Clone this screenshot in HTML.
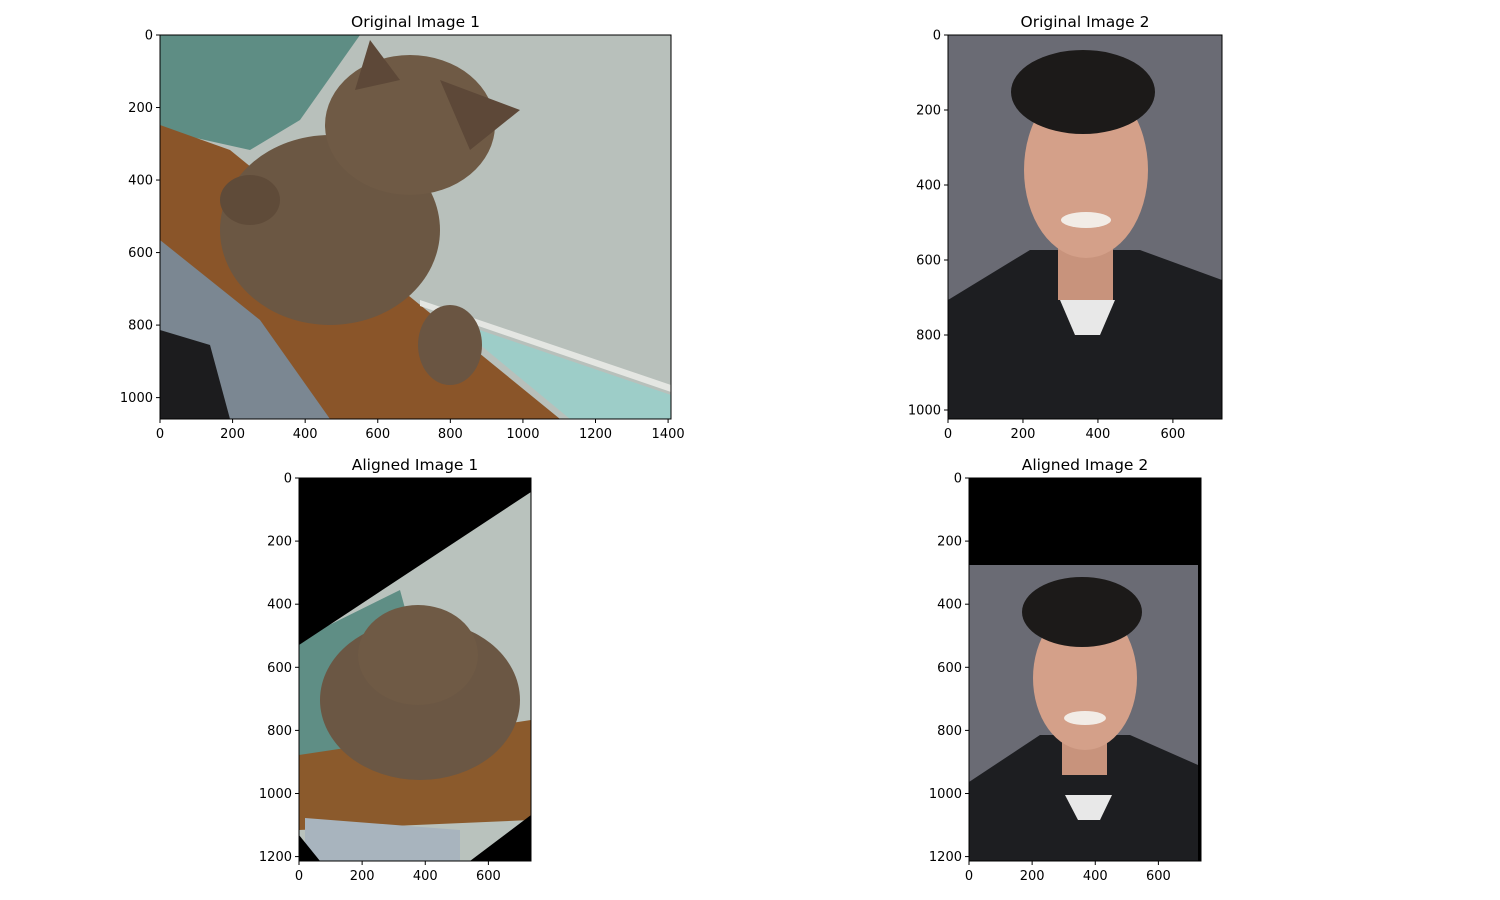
<!DOCTYPE html>
<html><head><meta charset="utf-8"><style>
html,body{margin:0;padding:0;background:#fff;}
svg{display:block;font-family:"DejaVu Sans","Liberation Sans",sans-serif;}
</style></head><body>
<svg id="fig" width="1500" height="900" viewBox="0 0 1500 900">
<defs>
<clipPath id="c1"><rect x="160" y="35" width="511" height="384"/></clipPath>
<clipPath id="c2"><rect x="948" y="35" width="274" height="384"/></clipPath>
<clipPath id="c3"><rect x="299" y="478" width="232" height="383"/></clipPath>
<clipPath id="c4"><rect x="969" y="478" width="232" height="383"/></clipPath>
</defs>
<g clip-path="url(#c1)">
<rect x="160" y="35" width="511" height="384" fill="#b8c0bb"/>
<polygon points="160,35 360,35 300,120 250,150 160,130" fill="#5e8d84"/>
<polygon points="160,125 230,150 560,419 160,419" fill="#8a5529"/>
<polygon points="450,320 671,395 671,419 570,419" fill="#9dcdc8"/>
<polygon points="420,300 671,385 671,392 420,306" fill="#e4e6e2"/>
<polygon points="160,240 260,320 330,419 160,419" fill="#7b8792"/>
<polygon points="160,330 210,345 230,419 160,419" fill="#1c1c1e"/>
<ellipse cx="330" cy="230" rx="110" ry="95" fill="#6b5743"/>
<ellipse cx="410" cy="125" rx="85" ry="70" fill="#6f5a45"/>
<polygon points="355,90 370,40 400,80" fill="#5d4838"/>
<polygon points="440,80 520,110 470,150" fill="#5d4838"/>
<ellipse cx="250" cy="200" rx="30" ry="25" fill="#5f4b39"/>
<ellipse cx="450" cy="345" rx="32" ry="40" fill="#6a5542"/>
</g>
<g clip-path="url(#c2)">
<rect x="948" y="35" width="274" height="384" fill="#6a6b74"/>
<polygon points="948,300 1030,250 1140,250 1222,280 1222,419 948,419" fill="#1d1e21"/>
<rect x="1058" y="230" width="55" height="70" fill="#c8937c"/>
<polygon points="1060,300 1115,300 1100,335 1075,335" fill="#e8e8e8"/>
<ellipse cx="1086" cy="170" rx="62" ry="88" fill="#d4a089"/>
<ellipse cx="1083" cy="92" rx="72" ry="42" fill="#1c1a19"/>
<ellipse cx="1086" cy="220" rx="25" ry="8" fill="#f2ece6"/>
</g>
<g clip-path="url(#c3)">
<rect x="299" y="478" width="232" height="383" fill="#b9c2bd"/>
<polygon points="299,640 400,590 430,700 360,750 299,760" fill="#5f8e85"/>
<polygon points="299,755 531,720 531,820 299,830" fill="#8b5a2c"/>
<ellipse cx="420" cy="700" rx="100" ry="80" fill="#6b5744"/>
<ellipse cx="418" cy="655" rx="60" ry="50" fill="#6f5a45"/>
<polygon points="305,818 460,830 460,861 305,861" fill="#a8b4be"/>
<polygon points="299,478 531,478 531,492 299,645" fill="#000"/>
<polygon points="531,815 531,861 470,861" fill="#000"/>
<polygon points="299,835 320,861 299,861" fill="#000"/>
</g>
<g clip-path="url(#c4)">
<rect x="969" y="478" width="232" height="383" fill="#6a6b74"/>
<rect x="969" y="478" width="232" height="87" fill="#000"/>
<rect x="1198" y="478" width="3" height="383" fill="#000"/>
<polygon points="969,782 1040,735 1130,735 1198,765 1198,861 969,861" fill="#1d1e21"/>
<rect x="1062" y="720" width="45" height="55" fill="#c8937c"/>
<polygon points="1065,795 1112,795 1100,820 1078,820" fill="#e8e8e8"/>
<ellipse cx="1085" cy="678" rx="52" ry="72" fill="#d4a089"/>
<ellipse cx="1082" cy="612" rx="60" ry="35" fill="#1c1a19"/>
<ellipse cx="1085" cy="718" rx="21" ry="7" fill="#f2ece6"/>
</g>
<g id="axes"></g>
</svg>
<script>
const titles = ["Original Image 1","Original Image 2","Aligned Image 1","Aligned Image 2"];
const xExtent = [1408, 731, 735, 735];
const yExtent = [1059, 1024, 1214, 1214];
const xTicks1 = [0,200,400,600,800,1000,1200,1400];
const yTicks1 = [0,200,400,600,800,1000];
const xTicks2 = [0,200,400,600];
const yTicks2 = [0,200,400,600,800,1000];
const xTicks3 = [0,200,400,600];
const yTicks3 = [0,200,400,600,800,1000,1200];
const xTicks4 = [0,200,400,600];
const yTicks4 = [0,200,400,600,800,1000,1200];
const xTickSets = [xTicks1,xTicks2,xTicks3,xTicks4];
const yTickSets = [yTicks1,yTicks2,yTicks3,yTicks4];
const boxes = [[160,35,511,384],[948,35,274,384],[299,478,232,383],[969,478,232,383]];
const NS="http://www.w3.org/2000/svg";
const root=document.getElementById('axes');
function mk(tag,attrs){const e=document.createElementNS(NS,tag);for(const k in attrs)e.setAttribute(k,attrs[k]);root.appendChild(e);return e;}
boxes.forEach((b,i)=>{
  const [x0,y0,w,h]=b;
  const sx=v=>x0+v/xExtent[i]*w;
  const sy=v=>y0+v/yExtent[i]*h;
  const fr=mk('rect',{x:x0,y:y0,width:w,height:h,fill:'none',stroke:'#000','stroke-width':1});
  
  
  const t=mk('text',{x:x0+w/2,y:y0-8,'text-anchor':'middle','font-size':15.5,fill:'#000'});
  t.textContent=titles[i];
  
  
  xTickSets[i].forEach(v=>{
    const x=sx(v);
    const l=mk('line',{x1:x,x2:x,y1:y0+h,y2:y0+h+4,stroke:'#000','stroke-width':1});
    
    
    const tx=mk('text',{x:x,y:y0+h+19,'text-anchor':'middle','font-size':13,fill:'#000'});
    tx.textContent=v;
    
    
  });
  yTickSets[i].forEach(v=>{
    const y=sy(v);
    const l=mk('line',{x1:x0-4,x2:x0,y1:y,y2:y,stroke:'#000','stroke-width':1});
    
    
    const ty=mk('text',{x:x0-7,y:y+4.5,'text-anchor':'end','font-size':13,fill:'#000'});
    ty.textContent=v;
    
    
  });
});
</script>
</body></html>
